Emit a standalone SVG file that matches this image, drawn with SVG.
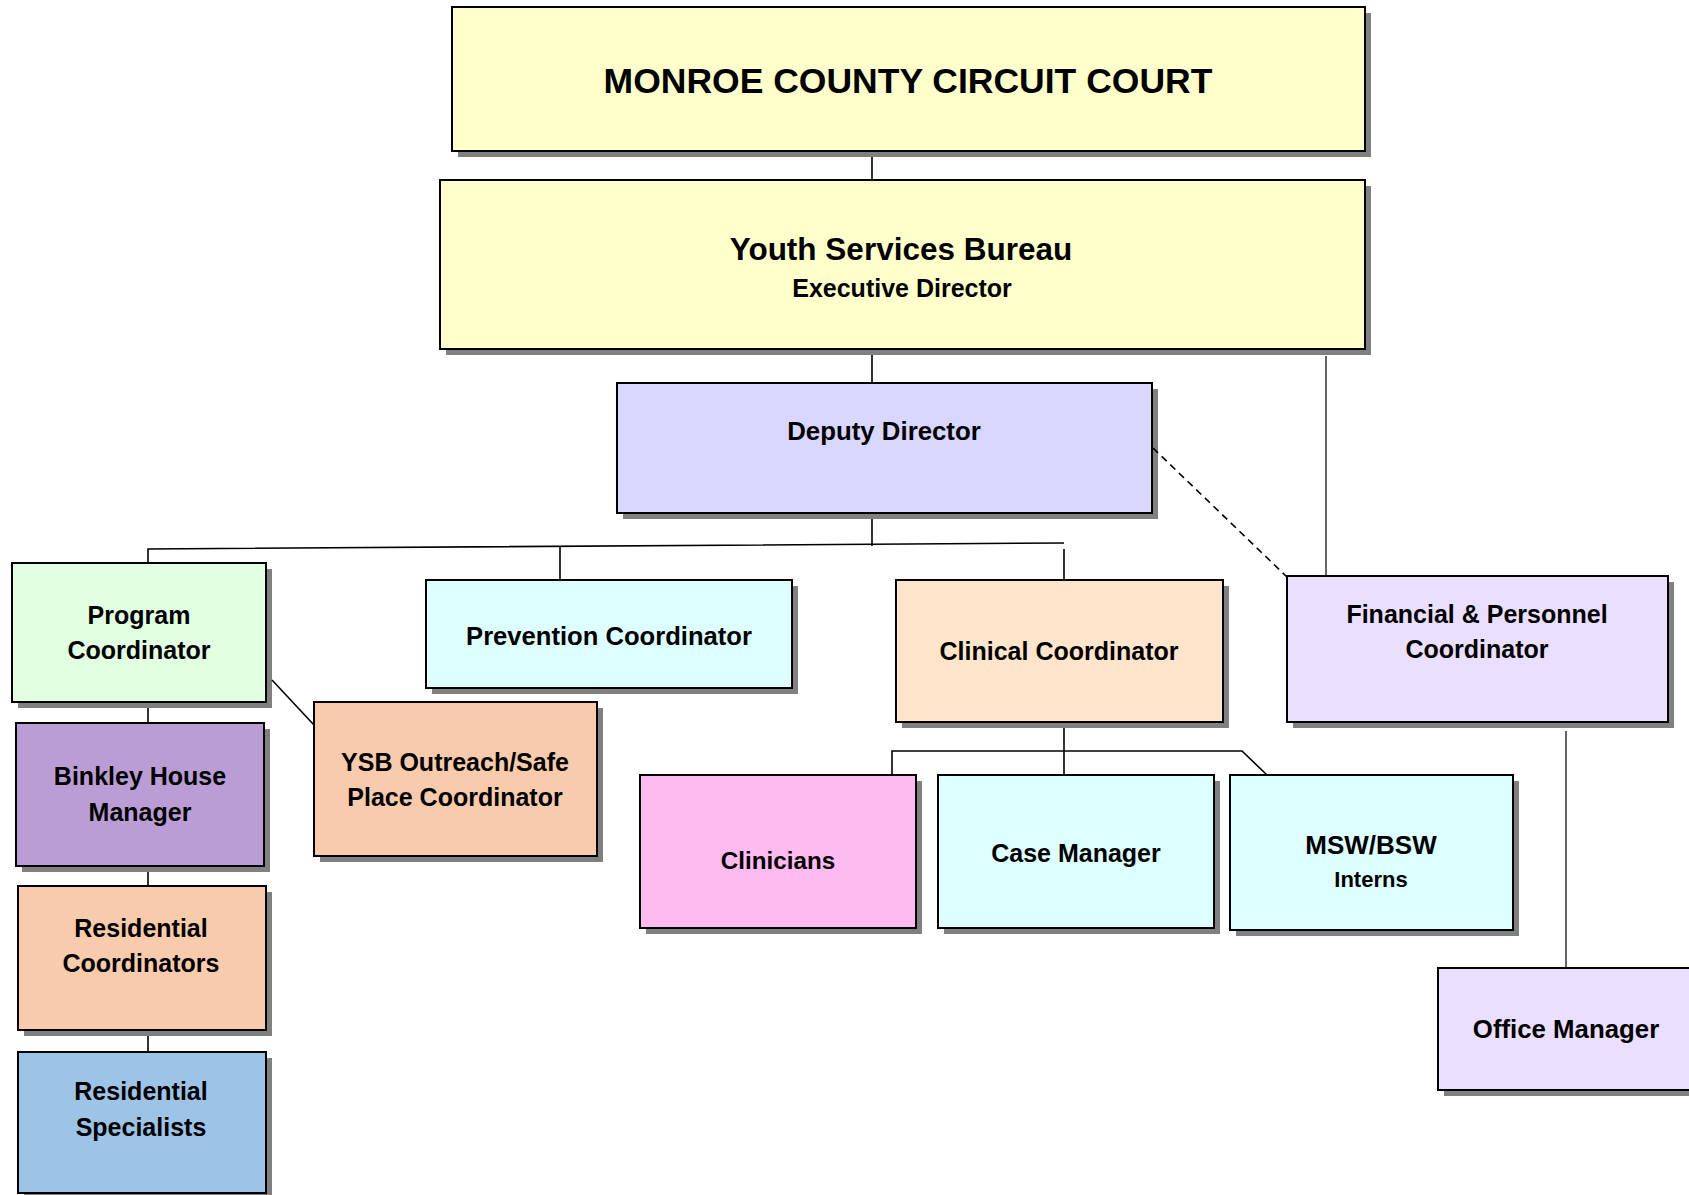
<svg xmlns="http://www.w3.org/2000/svg" width="1689" height="1195" viewBox="0 0 1689 1195">
<style>
.bx{stroke:#000;stroke-width:2}
.sh{fill:#808080}
.t{font-family:"Liberation Sans",Arial,sans-serif;font-weight:bold;font-size:25px;fill:#000;text-anchor:middle}
.c{fill:none;stroke:#000;stroke-width:1.6}
.thin{fill:none;stroke:#000;stroke-width:1.2}
.dash{fill:none;stroke:#000;stroke-width:1.6;stroke-dasharray:7 5}
</style>
<rect width="1689" height="1195" fill="#fff"/>
<g id="court">
<rect class="sh" x="458" y="13" width="913" height="144"/>
<rect class="bx" x="452" y="7" width="913" height="144" fill="#FFFFCC"/>
<text class="t" x="908" y="93" style="font-size:35.5px">MONROE COUNTY CIRCUIT COURT</text>
</g>
<g id="ysb">
<rect class="sh" x="446" y="186" width="925" height="169"/>
<rect class="bx" x="440" y="180" width="925" height="169" fill="#FFFFCC"/>
<text class="t" x="901" y="260" style="font-size:31.5px">Youth Services Bureau</text>
<text class="t" x="902" y="297">Executive Director</text>
</g>
<g id="deputy">
<rect class="sh" x="623" y="389" width="535" height="130"/>
<rect class="bx" x="617" y="383" width="535" height="130" fill="#D7D7FF"/>
<text class="t" x="884" y="440" style="font-size:25.8px">Deputy Director</text>
</g>
<g id="program">
<rect class="sh" x="18" y="569" width="254" height="139"/>
<rect class="bx" x="12" y="563" width="254" height="139" fill="#E1FFE1"/>
<text class="t" x="139" y="624">Program</text>
<text class="t" x="139" y="659">Coordinator</text>
</g>
<g id="prevention">
<rect class="sh" x="432" y="586" width="366" height="108"/>
<rect class="bx" x="426" y="580" width="366" height="108" fill="#DDFFFF"/>
<text class="t" x="609" y="645" style="font-size:25.6px">Prevention Coordinator</text>
</g>
<g id="outreach">
<rect class="sh" x="320" y="708" width="283" height="154"/>
<rect class="bx" x="314" y="702" width="283" height="154" fill="#F8CBAD"/>
<text class="t" x="455" y="771">YSB Outreach/Safe</text>
<text class="t" x="455" y="806">Place Coordinator</text>
</g>
<g id="binkley">
<rect class="sh" x="22" y="729" width="248" height="143"/>
<rect class="bx" x="16" y="723" width="248" height="143" fill="#BB9DD5"/>
<text class="t" x="140" y="785">Binkley House</text>
<text class="t" x="140" y="821">Manager</text>
</g>
<g id="rescoord">
<rect class="sh" x="24" y="892" width="248" height="144"/>
<rect class="bx" x="18" y="886" width="248" height="144" fill="#F8CBAD"/>
<text class="t" x="141" y="937">Residential</text>
<text class="t" x="141" y="972">Coordinators</text>
</g>
<g id="resspec">
<rect class="sh" x="24" y="1058" width="248" height="141"/>
<rect class="bx" x="18" y="1052" width="248" height="141" fill="#9DC3E6"/>
<text class="t" x="141" y="1100">Residential</text>
<text class="t" x="141" y="1136">Specialists</text>
</g>
<g id="clinicians">
<rect class="sh" x="646" y="781" width="276" height="153"/>
<rect class="bx" x="640" y="775" width="276" height="153" fill="#FDBBF0"/>
<text class="t" x="778" y="869" style="font-size:24.2px">Clinicians</text>
</g>
<g id="clinical">
<rect class="sh" x="902" y="586" width="327" height="142"/>
<rect class="bx" x="896" y="580" width="327" height="142" fill="#FFE5CC"/>
<text class="t" x="1059" y="660">Clinical Coordinator</text>
</g>
<g id="casemanager">
<rect class="sh" x="944" y="781" width="276" height="153"/>
<rect class="bx" x="938" y="775" width="276" height="153" fill="#DDFFFF"/>
<text class="t" x="1076" y="862">Case Manager</text>
</g>
<g id="interns">
<rect class="sh" x="1236" y="781" width="283" height="155"/>
<rect class="bx" x="1230" y="775" width="283" height="155" fill="#DDFFFF"/>
<text class="t" x="1371" y="854" style="font-size:26px">MSW/BSW</text>
<text class="t" x="1371" y="887" style="font-size:22px">Interns</text>
</g>
<g id="financial">
<rect class="sh" x="1293" y="582" width="381" height="146"/>
<rect class="bx" x="1287" y="576" width="381" height="146" fill="#EBDFFF"/>
<text class="t" x="1477" y="623">Financial &amp; Personnel</text>
<text class="t" x="1477" y="658">Coordinator</text>
</g>
<g id="office">
<rect class="sh" x="1444" y="974" width="260" height="122"/>
<rect class="bx" x="1438" y="968" width="260" height="122" fill="#EBDFFF"/>
<text class="t" x="1566" y="1038" style="font-size:25.8px">Office Manager</text>
</g>
<g id="connectors">
<path class="c" d="M872 157V180M872 355V383M872 519V546"/>
<path class="c" d="M148 563V549L1064 543"/>
<path class="c" d="M560 547V580M1064 549V580"/>
<path class="c" d="M148 708V723M148 872V886M148 1036V1052"/>
<path class="c" d="M272 680L314 725"/>
<path class="c" d="M1064 728V775M892 775V751H1242L1267 775"/>
<path class="thin" d="M1326 356V576M1566 731V968"/>
<path class="dash" d="M1153 448L1287 577"/>
</g>
</svg>
